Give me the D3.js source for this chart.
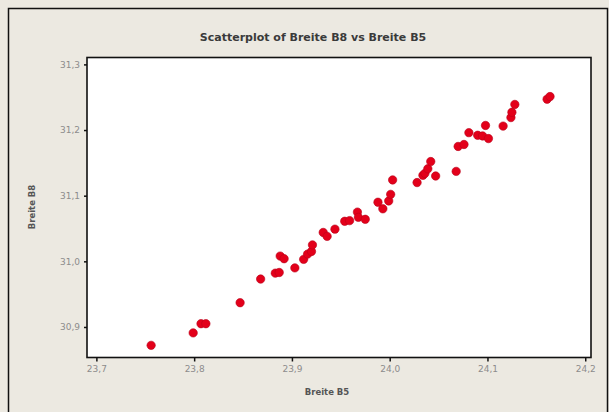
<!DOCTYPE html>
<html><head><meta charset="utf-8">
<script src="https://cdn.jsdelivr.net/npm/d3@7"></script>
<style>body{margin:0;background:#ece9e1;} svg{display:block;}</style>
</head><body>
<script>
const title = "Scatterplot of Breite B8 vs Breite B5";
const xLabel = "Breite B5";
const yLabel = "Breite B8";
const xTicks = [23.7, 23.8, 23.9, 24.0, 24.1, 24.2];
const yTicks = [30.9, 31.0, 31.1, 31.2, 31.3];
const breiteB5 = [23.756,23.799,23.807,23.812,23.847,23.868,23.883,23.887,23.888,23.892,23.903,23.912,23.916,23.920,23.921,23.932,23.936,23.944,23.954,23.959,23.967,23.968,23.975,23.988,23.993,23.999,24.001,24.003,24.028,24.034,24.036,24.039,24.042,24.047,24.068,24.070,24.076,24.081,24.090,24.095,24.098,24.101,24.116,24.124,24.125,24.128,24.161,24.164];
const breiteB8 = [30.872,30.891,30.905,30.905,30.937,30.973,30.982,30.983,31.008,31.004,30.990,31.003,31.011,31.015,31.025,31.044,31.038,31.049,31.061,31.062,31.075,31.067,31.064,31.090,31.080,31.092,31.102,31.124,31.120,31.131,31.134,31.141,31.152,31.130,31.137,31.175,31.178,31.196,31.192,31.191,31.207,31.187,31.206,31.219,31.227,31.239,31.247,31.251];

const W = 609, H = 412;
const plot = {left: 87, top: 57.5, right: 591, bottom: 357.5};
const svg = d3.select("body").append("svg").attr("width", W).attr("height", H);
svg.append("rect").attr("x",0).attr("y",0).attr("width",W).attr("height",H).attr("fill","#ece9e1");
svg.append("rect").attr("x",8.5).attr("y",8.5).attr("width",599).attr("height",420)
  .attr("fill","#ece9e1").attr("stroke","#111").attr("stroke-width",1.5);

const x = d3.scaleLinear().domain([23.6904, 24.2059]).range([plot.left, plot.right]);
const y = d3.scaleLinear().domain([30.8535, 31.3105]).range([plot.bottom, plot.top]);

svg.append("rect").attr("x",plot.left).attr("y",plot.top)
  .attr("width",plot.right-plot.left).attr("height",plot.bottom-plot.top)
  .attr("fill","#fff").attr("stroke","#111").attr("stroke-width",1.6);

const fmt = d => d3.format(".1f")(d).replace(".", ",");
const xAxis = svg.append("g").attr("transform",`translate(0,${plot.bottom})`)
  .call(d3.axisBottom(x).tickValues(xTicks).tickFormat(fmt).tickSize(4).tickPadding(4));
const yAxis = svg.append("g").attr("transform",`translate(${plot.left},0)`)
  .call(d3.axisLeft(y).tickValues(yTicks).tickFormat(fmt).tickSize(3).tickPadding(4));
[xAxis, yAxis].forEach(a => {
  a.select(".domain").remove();
  a.selectAll(".tick line").attr("stroke","#111").attr("stroke-width",1.5);
  a.selectAll(".tick text").attr("fill","#8c8c8c").style("font-family","DejaVu Sans, sans-serif").style("font-size","9px");
});

svg.append("text").attr("x",313).attr("y",41).attr("text-anchor","middle")
  .attr("fill","#3a3a3a").style("font-family","DejaVu Sans, sans-serif").style("font-size","11px").style("font-weight","bold")
  .text(title);
svg.append("text").attr("x",(plot.left+plot.right)/2 - 12).attr("y",395).attr("text-anchor","middle")
  .attr("fill","#555").style("font-family","DejaVu Sans, sans-serif").style("font-size","8.5px").style("font-weight","bold")
  .text(xLabel);
svg.append("text").attr("transform","translate(35,207) rotate(-90)").attr("text-anchor","middle")
  .attr("fill","#555").style("font-family","DejaVu Sans, sans-serif").style("font-size","8.5px").style("font-weight","bold")
  .text(yLabel);

svg.append("g").selectAll("circle").data(breiteB5.map((v,i)=>[v, breiteB8[i]])).join("circle")
  .attr("cx", d => x(d[0])).attr("cy", d => y(d[1])).attr("r", 4.2)
  .attr("fill","#e3001a").attr("stroke","#b8001a").attr("stroke-width",0.6);
</script>
</body></html>
